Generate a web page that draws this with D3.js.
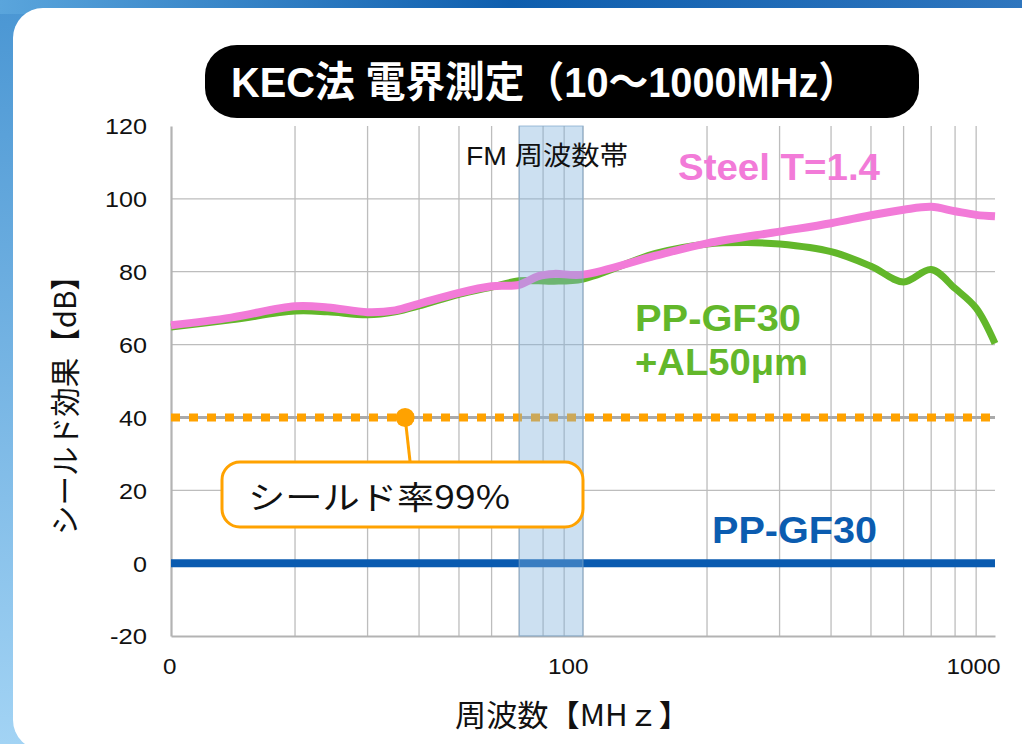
<!DOCTYPE html>
<html><head><meta charset="utf-8">
<script src="https://cdn.jsdelivr.net/npm/d3@7"></script>
<style>html,body{margin:0;padding:0;overflow:hidden;background:#fff}</style>
</head><body>
<svg id="c" width="1022" height="744"></svg>
<script>
// ---- data ----
const steelFreq = [10, 14, 20, 24, 30, 35, 40, 50, 60, 70, 78, 85, 100, 150, 200, 300, 400, 500, 600, 700, 800, 900, 1000];
const steelDb   = [65.3, 67.4, 70.5, 70.2, 68.9, 69.4, 71.2, 74.2, 76.0, 76.4, 78.8, 79.4, 79.2, 84.4, 87.8, 91.0, 93.3, 95.5, 97.0, 97.8, 96.6, 95.6, 95.2];
const alFreq = [10, 14, 20, 24, 30, 35, 40, 50, 60, 70, 78, 85, 100, 150, 200, 250, 300, 400, 500, 600, 700, 800, 900, 1000];
const alDb   = [64.8, 66.8, 69.2, 69.0, 68.2, 69.0, 70.6, 73.8, 75.8, 77.5, 77.5, 77.4, 78.0, 85.0, 87.6, 88.0, 87.6, 85.5, 81.5, 77.2, 80.6, 75.4, 70.0, 60.3];
const ppFreq = [10, 1000];
const ppDb   = [0, 0];
const rate99Freq = [10, 1000];
const rate99Db   = [40, 40];
const fmBand = [70, 100];
const annotFreq = 37, annotDb = 40;
const yTicks = [-20, 0, 20, 40, 60, 80, 100, 120];
const yGrid = [0, 20, 40, 60, 80, 100];
const xTickValues = [10, 100, 1000];
const xTickLabels = ["0", "100", "1000"];
const xGrid = [20,30,40,50,60,70,80,90,100,200,300,400,500,600,700,800,900];

const svg = d3.select("#c");
const defs = svg.append("defs");
const gv = defs.append("linearGradient").attr("id","gv").attr("x1",0).attr("y1",0).attr("x2",0).attr("y2",1);
gv.append("stop").attr("offset","0%").attr("stop-color","#4a96d3");
gv.append("stop").attr("offset","100%").attr("stop-color","#a2d3f4");
const gh = defs.append("linearGradient").attr("id","gh").attr("x1",0).attr("y1",0).attr("x2",1).attr("y2",0);
gh.append("stop").attr("offset","0%").attr("stop-color","#5aa5dc");
gh.append("stop").attr("offset","50%").attr("stop-color","#0e5eae");
gh.append("stop").attr("offset","100%").attr("stop-color","#2f76be");

svg.append("rect").attr("width",1022).attr("height",744).attr("fill","url(#gv)");
svg.append("rect").attr("width",1022).attr("height",14).attr("fill","url(#gh)");
svg.append("rect").attr("x",13).attr("y",8).attr("width",1100).attr("height",742).attr("rx",30).attr("fill","#fff");

const x = d3.scaleLog().domain([10,1000]).range([171,995]);
const y = d3.scaleLinear().domain([-20,120]).range([636,126]);

// grid
svg.append("g").selectAll("line").data(yGrid).join("line")
  .attr("x1",x(10)).attr("x2",x(1000)).attr("y1",d=>y(d)).attr("y2",d=>y(d))
  .attr("stroke","#bdbdbd").attr("stroke-width",1.3);
svg.append("g").selectAll("line").data(xGrid).join("line")
  .attr("x1",d=>x(d)).attr("x2",d=>x(d)).attr("y1",y(120)).attr("y2",y(-20))
  .attr("stroke","#bdbdbd").attr("stroke-width",1.3);

// axes
const yAxis = d3.axisLeft(y).tickValues(yTicks).tickSize(0).tickPadding(24).tickFormat(d=>String(d));
const gy = svg.append("g").attr("transform",`translate(${x(10)},0)`).call(yAxis);
gy.select(".domain").attr("stroke","#b3b3b3").attr("stroke-width",2.2);
gy.selectAll("text").attr("font-family","'Liberation Sans',Arial,sans-serif").attr("font-size",22).attr("fill","#111").attr("dy","0.36em")
  .attr("textLength",d=>{const s=String(d);return s.replace("-","").length*14+(s.startsWith("-")?9:0);})
  .attr("lengthAdjust","spacingAndGlyphs");

const xAxis = d3.axisBottom(x).tickValues(xTickValues).tickSize(0).tickPadding(22).tickFormat((d,i)=>xTickLabels[i]);
const gx = svg.append("g").attr("transform",`translate(0,${y(-20)})`).call(xAxis);
gx.select(".domain").attr("stroke","#b3b3b3").attr("stroke-width",2.2);
gx.selectAll("text").attr("font-family","'Liberation Sans',Arial,sans-serif").attr("font-size",22).attr("fill","#111")
  .attr("text-anchor","end").attr("dx",5)
  .attr("textLength",(d,i)=>xTickLabels[i].length*13.5).attr("lengthAdjust","spacingAndGlyphs");

const line = d3.line().x(d=>x(d[0])).y(d=>y(d[1]));
const smooth = d3.line().x(d=>x(d[0])).y(d=>y(d[1])).curve(d3.curveCatmullRom.alpha(0.5));

// 99% line
const r99 = rate99Freq.map((f,i)=>[f,rate99Db[i]]);
svg.append("path").attr("d",line(r99)).attr("stroke","#aaaaaa").attr("stroke-width",3).attr("fill","none");
svg.append("path").attr("d",line([[10,40],[x.invert(990),40]])).attr("stroke","#ffa200").attr("stroke-width",8)
  .attr("stroke-dasharray","9,9").attr("fill","none");

// PP-GF30
svg.append("path").attr("d",line(ppFreq.map((f,i)=>[f,ppDb[i]]))).attr("stroke","#0a5bb0").attr("stroke-width",8).attr("fill","none");

// AL
svg.append("path").attr("d",smooth(alFreq.map((f,i)=>[f,alDb[i]]))).attr("stroke","#62b72a").attr("stroke-width",7).attr("fill","none").attr("stroke-linejoin","round");
// Steel
svg.append("path").attr("d",smooth(steelFreq.map((f,i)=>[f,steelDb[i]]))).attr("stroke","#f27bd8").attr("stroke-width",8).attr("fill","none").attr("stroke-linejoin","round");

// FM band
svg.append("rect").attr("x",x(fmBand[0])).attr("width",x(fmBand[1])-x(fmBand[0]))
  .attr("y",y(120)).attr("height",y(-20)-y(120))
  .attr("fill","#7fb2dd").attr("fill-opacity",0.4).attr("stroke","#7fa6cc").attr("stroke-opacity",0.6).attr("stroke-width",1.2);

// annotation
const ax = x(annotFreq), ay = y(annotDb);
svg.append("line").attr("x1",ax).attr("y1",ay).attr("x2",ax+5).attr("y2",462).attr("stroke","#ffa200").attr("stroke-width",3);
svg.append("circle").attr("cx",ax).attr("cy",ay).attr("r",9.5).attr("fill","#ffa200");
svg.append("rect").attr("x",222).attr("y",462).attr("width",361).attr("height",65).attr("rx",18)
  .attr("fill","#fff").attr("stroke","#ffa200").attr("stroke-width",3);
svg.append("text").attr("x",248).attr("y",509).attr("font-family","'Noto Sans CJK JP',sans-serif").attr("font-size",32)
  .attr("textLength",262).attr("lengthAdjust","spacingAndGlyphs").attr("fill","#111").text("シールド率99%");

// title
svg.append("rect").attr("x",205).attr("y",45).attr("width",714).attr("height",73).attr("rx",32).attr("ry",30).attr("fill","#000");
svg.append("text").attr("x",231).attr("y",97).attr("font-family","'Liberation Sans','Noto Sans CJK JP',sans-serif")
  .attr("font-weight","bold").attr("font-size",42).attr("fill","#fff")
  .attr("textLength",627).attr("lengthAdjust","spacingAndGlyphs").text("KEC法 電界測定（10～1000MHz）");

// labels
const lab = (t,xx,yy,size,len,col,bold,fam)=>svg.append("text").attr("x",xx).attr("y",yy).attr("font-size",size)
  .attr("font-family",fam||"'Liberation Sans','Noto Sans CJK JP',sans-serif").attr("font-weight",bold?"bold":"normal")
  .attr("fill",col).attr("textLength",len).attr("lengthAdjust","spacingAndGlyphs").text(t);
lab("FM 周波数帯",466,165,26,162,"#111",false);
lab("Steel T=1.4",678,180,36,202,"#f27bd8",true);
lab("PP-GF30",635,331,36,166,"#62b72a",true);
lab("+AL50μm",635,375,36,173,"#62b72a",true);
lab("PP-GF30",712,543,36,165,"#0b5cb0",true);

// axis titles
lab("周波数【MHｚ】",455,726,30,235,"#111",false,"'Noto Sans CJK JP',sans-serif");
svg.append("text").attr("transform","translate(76,398) rotate(-90)").attr("text-anchor","middle")
  .attr("font-family","'Noto Sans CJK JP',sans-serif").attr("font-size",30).attr("fill","#111")
  .attr("textLength",274).attr("lengthAdjust","spacingAndGlyphs").text("シールド効果【dB】");
</script>
</body></html>
